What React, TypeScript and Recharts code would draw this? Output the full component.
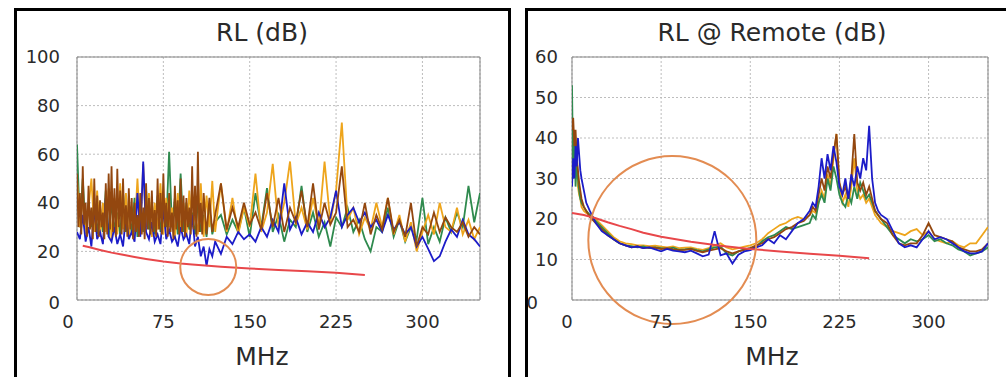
import React from 'react';
import { LineChart, Line, XAxis, YAxis, CartesianGrid, ReferenceArea, ReferenceDot } from 'recharts';

// ---------- Left chart: RL (dB) ----------
const FREQ_L = [0,2.5,5,7.5,10,12.5,15,17.5,20,22.5,25,27.5,30,32.5,35,37.5,40,42.5,45,47.5,50,52.5,55,57.5,60,62.5,65,67.5,70,72.5,75,77.5,80,82.5,85,87.5,90,92.5,95,97.5,100,102.5,105,107.5,110,112.5,115,117.5,120,125,130,135,140,145,150,155,160,165,170,175,180,185,190,195,200,205,210,215,220,225,230,235,240,245,250,255,260,265,270,275,280,285,290,295,300,305,310,315,320,325,330,335,340,345,350];
const ORANGE_L = [50,30,42,27,38,50,28,45,26,40,28,46,25,42,27,48,29,44,26,38,28,50,27,56,30,44,26,40,29,48,27,42,30,38,26,44,28,40,26,45,30,35,27,48,26,43,30,49,28,
48,28,42,27,38,30,52,28,36,56,30,40,57,31,38,29,42,30,57,32,45,73,33,38,27,34,29,40,30,42,27,35,24,32,20,28,35,27,40,30,28,38,27,33,25,30];
const GREEN_L = [64,30,50,28,40,30,42,27,38,28,45,26,40,29,36,27,44,28,38,27,42,26,39,28,45,29,40,27,43,28,38,30,61,30,42,27,52,28,40,29,36,27,40,28,35,26,38,27,32,
35,27,33,28,38,26,44,30,46,28,35,24,33,30,47,28,36,26,32,22,34,30,38,28,33,25,20,30,28,38,26,33,24,30,25,42,23,30,24,34,28,36,30,47,32,44];
const BLUE_L = [28,25,35,24,30,22,38,25,28,23,42,26,24,30,23,27,22,35,25,28,24,44,26,57,28,25,32,24,27,23,38,25,29,24,26,22,30,25,27,23,35,22,26,18,22,14,21,18,24,
19,26,23,28,25,27,24,30,26,33,28,48,29,34,27,32,28,36,30,34,45,30,35,38,32,36,30,33,28,35,29,32,27,30,22,26,21,16,18,24,29,26,33,27,25,22];
// brown trace is sampled more finely below 110 MHz
const FREQ_BROWN_L = [0,1.25,2.5,3.75,5,6.25,7.5,8.75,10,11.25,12.5,13.75,15,16.25,17.5,18.75,20,21.25,22.5,23.75,25,26.25,27.5,28.75,30,31.25,32.5,33.75,35,36.25,37.5,38.75,40,41.25,42.5,43.75,45,46.25,47.5,48.75,50,51.25,52.5,53.75,55,56.25,57.5,58.75,60,61.25,62.5,63.75,65,66.25,67.5,68.75,70,71.25,72.5,73.75,75,76.25,77.5,78.75,80,81.25,82.5,83.75,85,86.25,87.5,88.75,90,91.25,92.5,93.75,95,96.25,97.5,98.75,100,101.25,102.5,103.75,105,106.25,107.5,108.75,110,
112.5,115,117.5,120,125,130,135,140,145,150,155,160,165,170,175,180,185,190,195,200,205,210,215,220,225,230,235,240,245,250,255,260,265,270,275,280,285,290,295,300,305,310,315,320,325,330,335,340,345,350];
const BROWN_L = [52,30,44,27,55,31,40,26,47,29,38,25,50,28,43,26,41,30,36,25,48,27,52,29,55,28,46,26,54,30,45,27,50,28,39,26,46,29,42,25,40,28,35,26,44,27,38,25,48,29,42,27,45,28,37,26,50,29,44,27,52,30,40,26,44,28,36,25,47,29,41,27,50,28,43,26,42,30,38,27,55,29,47,26,61,28,40,27,44,
27,42,28,35,
48,29,38,30,40,31,36,29,44,30,42,28,38,32,45,30,48,29,40,31,36,55,30,33,28,40,27,35,29,42,28,33,26,40,22,30,27,36,28,34,30,28,32,26,30,27];
const LIMIT_F_L = [5,10,20,30,40,50,60,75,90,100,114,125,150,175,200,225,250];
const LIMIT_V_L = [22.3,21.8,20.6,19.5,18.6,17.7,16.9,15.8,15.0,14.6,14.1,13.7,13.0,12.3,11.8,11.2,10.3];
const Y_TICKS_L = [0,20,40,60,80,100];

// ---------- Right chart: RL @ Remote (dB) ----------
const FREQ_R = [0,1,2,3,4,5,6,7,8,10,12,15,20,25,30,35,40,45,50,55,60,65,70,75,80,85,90,95,100,105,110,115,120,125,130,135,140,145,150,155,160,165,170,175,180,185,190,195,200,202.5,205,207.5,210,212.5,215,217.5,220,222.5,225,227.5,230,232.5,235,237.5,240,242.5,245,247.5,250,252.5,255,257.5,260,265,270,275,280,285,290,295,300,305,310,315,320,325,330,335,340,345,350];
const BLUE_R = [28,35,30,38,33,40,36,32,30,27,24,22,
19,17,16,15,14,13.5,13,13.2,12.8,13,12.5,12,12.6,12.2,12,11.8,12.2,11.5,10.8,11.2,17,11,11.5,9,11.2,12,12.3,13,13.5,15,14,16,15,17,19,20,22,
24,23,28,35,30,36,32,38,34,28,26,30,25,31,28,33,30,35,32,43,30,24,22,21,
20,17,14,13,13.5,13,15,17,15,15.5,15,14,13,12,11.5,11.5,12,14];
const GREEN_R = [53,30,40,28,35,30,27,25,24,23,22,21,
19.5,18,16.5,15,14,13.5,13.3,13,13.2,12.8,13,12.8,12.6,12.9,12.4,12.5,12.7,12.3,12,12.5,13,13.2,11.5,11,12,12.5,12.8,13.2,14.5,15.5,16,17,18,17.5,18,18.5,19,
21,20,24,26,24,30,27,33,30,26,24,23,26,24,28,25,29,27,25,26,24,22,21,20,
18,16,15,14,15,14.5,15,16,14.5,15,14,13.5,12.5,12,11,11.5,12,13];
const ORANGE_R = [45,35,42,30,34,28,26,25,23,22,21.5,21,
20,18.5,17,15.5,14.5,14,13.8,13.5,13.5,13.3,13.4,13.2,13,13.2,12.8,12.9,13,12.6,12.4,12.8,13.5,14,13,12.5,12.8,13.2,13.5,14,15,16.5,17.5,18.5,19,20,20.5,20,21,
22,21.5,24,27,25,31,28,35,41,28,24,26,23,28,35,27,25,26,24,25,23,21,20,19,
18,17,16.5,16,17,17.5,16,17,15,14.5,14,14.5,13.5,13,14,14,16,18];
const BROWN_R = [42,45,38,42,35,32,29,27,25,23,22,20.5,
19,17.5,16,15,14,13.5,13,13.3,12.8,13,12.9,12.6,12.8,12.5,12.3,12.4,12.6,12.1,11.8,12.2,12.5,12.8,12,11.5,12,12.4,12.8,13.5,14,15,15.5,16.5,17.5,18,19,19.5,21,
23,22,26,30,27,33,30,36,41,29,26,28,25,30,41,29,27,29,26,28,25,22,21,20,
19,16,14,13.5,14,14,16,19,16,15.5,15,14.5,13,12.5,12,12,12.5,14];
const LIMIT_F_R = [0,10,20,30,40,50,60,75,100,125,150,175,200,225,250];
const LIMIT_V_R = [21.5,21,20.2,19.2,18.3,17.5,16.6,15.6,14.4,13.4,12.6,12.0,11.4,10.9,10.3];
const Y_TICKS_R = [0,10,20,30,40,50,60];

const X_TICKS = [0,75,150,225,300];
const TITLES = ['RL (dB)', 'RL @ Remote (dB)'];
const X_LABEL = 'MHz';

const COLORS: Record<string, string> = { blue: '#1c1cc8', green: '#2f8a4e', orange: '#eea51c', brown: '#93470f', limit: '#e8474a', ring: '#e38c52' };
const FONT = '"DejaVu Sans", Verdana, sans-serif';
const TEXT = '#2a2a2a';

const rows = (freq: number[], s: Record<string, number[]>) =>
  freq.map((f, i) => {
    const r: Record<string, number> = { f };
    Object.keys(s).forEach((k) => { r[k] = s[k][i]; });
    return r;
  });
const oneRows = (freq: number[], v: number[], key: string) => freq.map((f, i) => ({ f, [key]: v[i] }));

const makeXTick = (zeroDx: number) => (props: any) => {
  const { x, y, payload } = props;
  const dx = payload.value === 0 ? zeroDx : 0;
  return (
    <text x={x + dx} y={y} dy="0.71em" textAnchor="middle" fill={TEXT} fontSize={18} fontFamily={FONT}>
      {payload.value}
    </text>
  );
};
const makeYTick = (zeroDx: number, zeroDy: number) => (props: any) => {
  const { x, y, payload } = props;
  const z = payload.value === 0;
  return (
    <text x={x + (z ? zeroDx : 0)} y={y + (z ? zeroDy : 0)} dy="0.36em" textAnchor="end" fill={TEXT} fontSize={18} fontFamily={FONT}>
      {payload.value}
    </text>
  );
};

type SeriesDef = { key: string; data?: Record<string, number>[] };
type PanelProps = {
  data: Record<string, number>[];
  series: SeriesDef[];
  limit: Record<string, number>[];
  yMax: number;
  yTicks: number[];
  width: number;
  margin: { top: number; right: number; bottom: number; left: number };
  yMargin: number;
  xZeroDx: number;
  yZeroDx: number;
  yZeroDy: number;
  ring: { x: number; y: number; r: number };
};

const Panel = (p: PanelProps) => (
  <LineChart width={p.width} height={377} data={p.data} margin={p.margin}>
    <CartesianGrid stroke="#bdbdbd" strokeDasharray="2 2" />
    <XAxis
      dataKey="f"
      type="number"
      domain={[0, 350]}
      ticks={X_TICKS}
      allowDataOverflow
      height={40}
      axisLine={false}
      tickLine={false}
      tickSize={0}
      tickMargin={15}
      interval={0}
      tick={makeXTick(p.xZeroDx)}
    />
    <YAxis
      type="number"
      domain={[0, p.yMax]}
      ticks={p.yTicks}
      allowDataOverflow
      width={60}
      axisLine={false}
      tickLine={false}
      tickSize={0}
      tickMargin={p.yMargin}
      interval={0}
      tick={makeYTick(p.yZeroDx, p.yZeroDy)}
    />
    <ReferenceArea x1={0} x2={350} y1={0} y2={p.yMax} fill="none" stroke="#858585" strokeWidth={1} ifOverflow="visible" />
    {p.series.map((s) => (
      <Line key={s.key} data={s.data} dataKey={s.key} type="linear" stroke={COLORS[s.key]} strokeWidth={1.8} dot={false} isAnimationActive={false} />
    ))}
    <Line data={p.limit} dataKey="limit" type="linear" stroke={COLORS.limit} strokeWidth={2} dot={false} isAnimationActive={false} />
    <ReferenceDot x={p.ring.x} y={p.ring.y} r={p.ring.r} fill="none" stroke={COLORS.ring} strokeWidth={2} ifOverflow="visible" />
  </LineChart>
);

const textStyle = (left: number, top: number): React.CSSProperties => ({
  position: 'absolute', left: left - 200, top, width: 400, textAlign: 'center',
  fontFamily: FONT, fontSize: 25, lineHeight: '25px', color: TEXT, whiteSpace: 'nowrap',
});

export default function App() {
  const leftData = rows(FREQ_L, { green: GREEN_L, orange: ORANGE_L, blue: BLUE_L });
  const brownLeft = oneRows(FREQ_BROWN_L, BROWN_L, 'brown');
  const rightData = rows(FREQ_R, { orange: ORANGE_R, green: GREEN_R, brown: BROWN_R, blue: BLUE_R });
  return (
    <div style={{ position: 'absolute', left: 0, top: 0, width: 1006, height: 377, overflow: 'hidden', background: '#fff' }}>
      <div style={{ position: 'absolute', left: 14, top: 8, width: 491, height: 400, border: '3px solid #000' }} />
      <div style={{ position: 'absolute', left: 525, top: 8, width: 600, height: 400, border: '3px solid #000' }} />
      <div style={{ position: 'absolute', left: 0, top: 0 }}>
        <Panel
          data={leftData}
          series={[{ key: 'green' }, { key: 'orange' }, { key: 'blue' }, { key: 'brown', data: brownLeft }]}
          limit={oneRows(LIMIT_F_L, LIMIT_V_L, 'limit')}
          yMax={100}
          yTicks={Y_TICKS_L}
          width={510}
          margin={{ top: 57, right: 30, bottom: 37, left: 17 }}
          yMargin={17}
          xZeroDx={-9}
          yZeroDx={0}
          yZeroDy={3}
          ring={{ x: 114, y: 13.6, r: 28 }}
        />
      </div>
      <div style={{ position: 'absolute', left: 500, top: 0 }}>
        <Panel
          data={rightData}
          series={[{ key: 'orange' }, { key: 'green' }, { key: 'brown' }, { key: 'blue' }]}
          limit={oneRows(LIMIT_F_R, LIMIT_V_R, 'limit')}
          yMax={60}
          yTicks={Y_TICKS_R}
          width={506}
          margin={{ top: 57, right: 18, bottom: 37, left: 12 }}
          yMargin={14}
          xZeroDx={-5}
          yZeroDx={-20}
          yZeroDy={3}
          ring={{ x: 84.4, y: 14.8, r: 84 }}
        />
      </div>
      <div style={textStyle(262, 20)}>{TITLES[0]}</div>
      <div style={textStyle(772, 20)}>{TITLES[1]}</div>
      <div style={textStyle(262, 344)}>{X_LABEL}</div>
      <div style={textStyle(772, 344)}>{X_LABEL}</div>
    </div>
  );
}
